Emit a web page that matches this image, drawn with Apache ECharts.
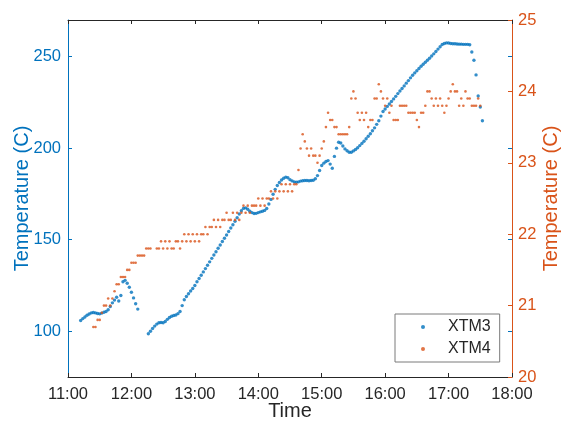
<!DOCTYPE html>
<html><head><meta charset="utf-8">
<script src="https://cdn.jsdelivr.net/npm/echarts@6/dist/echarts.min.js"></script>
<style>html,body{margin:0;padding:0;background:#fff}#c{width:561px;height:421px}</style>
</head><body><div id="c"></div>
<script>
// x axis: minutes since midnight
const xTickLabels = ['11:00','12:00','13:00','14:00','15:00','16:00','17:00','18:00'];
const leftTicks = [100, 150, 200, 250];
const rightTicks = [20, 21, 22, 23, 24, 25];
const sampleStep = 2; // minutes between plotted samples

// XTM3 (left axis), first run starting 11:12
const xtm3StartA = 672;
const xtm3A = [105.9,106.9,107.8,108.7,109.4,110.0,110.2,110.0,109.7,109.5,
  109.9,110.4,110.8,111.7,113.5,115.5,117.0,118.6,116.5,119.5,
  127.0,127.8,126.2,124.0,121.3,118.2,115.0,112.1];
// XTM3 second run starting 12:16
const xtm3StartB = 736;
const xtm3B = [98.6,100.0,101.5,102.8,103.9,104.6,104.8,104.6,105.3,106.5,
  107.5,108.2,108.6,108.9,109.6,110.8,114.0,117.2,119.0,120.5,
  122.0,123.3,125.0,127.0,128.8,130.6,132.4,134.2,136.0,137.9,
  139.8,141.6,143.4,145.3,147.1,149.0,150.8,152.6,154.5,156.4,
  158.2,160.1,162.0,164.0,165.8,167.1,167.4,166.6,165.5,164.8,
  164.3,164.4,164.8,165.2,165.5,166.0,167.0,169.5,172.0,174.8,
  177.5,179.6,181.2,182.6,183.6,184.2,183.8,182.8,182.1,181.6,
  181.4,181.6,182.0,182.2,182.3,182.3,182.2,182.3,182.5,183.3,
  185.0,187.8,190.5,191.8,192.7,193.2,191.3,189.0,195.5,200.0,
  203.2,202.8,201.2,199.6,198.6,197.8,197.8,198.5,199.3,200.2,
  201.4,202.6,203.8,205.1,206.5,207.9,209.5,211.1,213.0,215.0,
  217.5,220.0,221.4,222.8,224.1,225.5,226.9,228.3,229.8,231.2,
  232.6,234.0,235.5,236.9,238.4,239.8,241.1,242.3,243.5,244.7,
  245.8,246.9,248.0,249.1,250.3,251.5,252.8,254.1,255.4,256.6,
  257.2,257.5,257.4,257.2,257.0,257.0,256.9,256.8,256.8,256.7,
  256.7,256.7,256.5,252.5,248.0,240.0,228.5,222.5,215.0];
// XTM4 (right axis) starting 11:24
const xtm4Start = 684;
const xtm4 = [20.7,20.7,20.8,20.8,20.9,21.0,21.0,21.1,21.0,21.1,
  21.2,21.3,21.3,21.4,21.4,21.4,21.5,21.5,21.6,21.6,
  21.6,21.7,21.7,21.7,21.7,21.8,21.8,21.8,
  null,null,
  21.8,21.8,21.9,21.8,21.9,21.8,21.9,21.8,21.8,21.9,21.9,21.8,21.9,
  22.0,21.9,22.0,21.9,22.0,21.9,22.0,21.9,22.0,22.0,
  22.1,22.0,22.1,22.1,22.2,22.1,22.2,22.1,22.2,22.2,
  22.3,22.2,22.2,22.3,22.2,22.3,22.2,22.3,22.4,22.3,
  22.4,22.3,22.4,22.4,22.4,22.5,22.4,22.5,22.4,22.5,
  22.5,22.6,22.5,22.6,22.5,22.6,22.7,22.6,22.7,22.6,
  22.7,22.6,22.7,22.7,22.9,
  23.2,23.4,23.3,23.2,23.1,23.2,23.1,23.1,23.0,23.1,
  23.2,23.3,23.5,23.7,23.6,23.6,23.5,23.5,23.4,23.4,
  23.4,23.4,23.4,23.5,23.9,24.0,23.9,23.7,23.6,23.7,
  23.6,23.7,23.5,23.6,23.6,23.9,23.9,24.1,24.0,23.9,
  23.8,23.9,23.7,23.8,23.6,23.6,23.6,23.8,23.8,23.8,
  23.8,23.7,23.7,23.7,23.7,23.6,23.5,23.7,23.7,23.8,
  24.0,24.0,23.9,23.8,23.9,23.8,23.9,23.8,23.7,23.8,
  23.9,24.0,24.1,24.0,24.0,23.8,23.9,23.8,24.0,23.9,
  23.9,23.8,23.8,23.8,23.9,23.8];

function pairs(start, vals) {
  const out = [];
  vals.forEach((v, i) => { if (v != null) out.push([start + i * sampleStep, v]); });
  return out;
}

const BLUE = '#0072BD', ORANGE = '#D95319', DARK = '#262626';
const FONT = 'Liberation Sans, Arial, Helvetica, sans-serif';

const chart = echarts.init(document.getElementById('c'), null, {renderer: 'canvas'});
chart.setOption({
  animation: false,
  backgroundColor: '#fff',
  textStyle: {fontFamily: FONT},
  grid: {left: 68, right: 49, top: 20, bottom: 44, containLabel: false, outerBoundsMode: 'none'},
  legend: {
    left: 395, top: 314, orient: 'vertical',
    data: ['XTM3', 'XTM4'],
    icon: 'circle', itemWidth: 4, itemHeight: 4, itemGap: 4,
    backgroundColor: '#fff', borderColor: '#7a7a7a', borderWidth: 1,
    padding: [4, 9, 4, 26], borderRadius: 0,
    textStyle: {fontSize: 16, color: DARK, fontFamily: FONT, lineHeight: 18, padding: [0, 0, 0, 18]}
  },
  xAxis: [{
    type: 'value', min: 660, max: 1080, interval: 60, position: 'bottom',
    axisLine: {lineStyle: {color: DARK, width: 1}},
    axisTick: {inside: true, length: 4, lineStyle: {color: DARK}},
    axisLabel: {color: DARK, fontSize: 16.5, margin: 9, fontFamily: FONT,
      formatter: v => xTickLabels[Math.round((v - 660) / 60)]},
    splitLine: {show: false},
    name: 'Time', nameLocation: 'middle', nameGap: 24, nameMoveOverlap: false,
    nameTextStyle: {fontSize: 20, color: DARK, fontFamily: FONT, verticalAlign: 'top'}
  }, {
    type: 'value', min: 660, max: 1080, interval: 60, position: 'top',
    axisLine: {lineStyle: {color: DARK, width: 1}},
    axisTick: {inside: true, length: 4, lineStyle: {color: DARK}},
    axisLabel: {show: false}, splitLine: {show: false}
  }],
  yAxis: [{
    type: 'value', min: 75, max: 270, position: 'left',
    axisLine: {show: true, lineStyle: {color: BLUE, width: 1}},
    axisTick: {show: true, inside: true, length: 4, customValues: leftTicks, lineStyle: {color: BLUE}},
    axisLabel: {color: BLUE, fontSize: 16.5, margin: 7, customValues: leftTicks, fontFamily: FONT},
    splitLine: {show: false},
    name: 'Temperature (C)', nameLocation: 'middle', nameGap: 36, nameRotate: 90, nameMoveOverlap: false,
    nameTextStyle: {fontSize: 20, color: BLUE, fontFamily: FONT}
  }, {
    type: 'value', min: 20, max: 25, interval: 1, position: 'right',
    axisLine: {show: true, lineStyle: {color: ORANGE, width: 1}},
    axisTick: {show: true, inside: true, length: 4, lineStyle: {color: ORANGE}},
    axisLabel: {color: ORANGE, fontSize: 16.5, margin: 6, fontFamily: FONT},
    splitLine: {show: false},
    name: 'Temperature (C)', nameLocation: 'middle', nameGap: 29, nameRotate: 90, nameMoveOverlap: false,
    nameTextStyle: {fontSize: 20, color: ORANGE, fontFamily: FONT}
  }, {
    type: 'value', min: 75, max: 270, position: 'right',
    axisLine: {show: false},
    axisTick: {show: true, inside: true, length: 4, customValues: leftTicks, lineStyle: {color: BLUE}},
    axisLabel: {show: false}, splitLine: {show: false}
  }],
  series: [{
    name: 'XTM3', type: 'scatter', xAxisIndex: 0, yAxisIndex: 0,
    symbol: 'circle', symbolSize: 3.4,
    itemStyle: {color: BLUE},
    data: pairs(xtm3StartA, xtm3A).concat(pairs(xtm3StartB, xtm3B))
  }, {
    name: 'XTM4', type: 'scatter', xAxisIndex: 0, yAxisIndex: 1,
    symbol: 'circle', symbolSize: 2.6,
    itemStyle: {color: ORANGE},
    data: pairs(xtm4Start, xtm4)
  }]
});
</script></body></html>
